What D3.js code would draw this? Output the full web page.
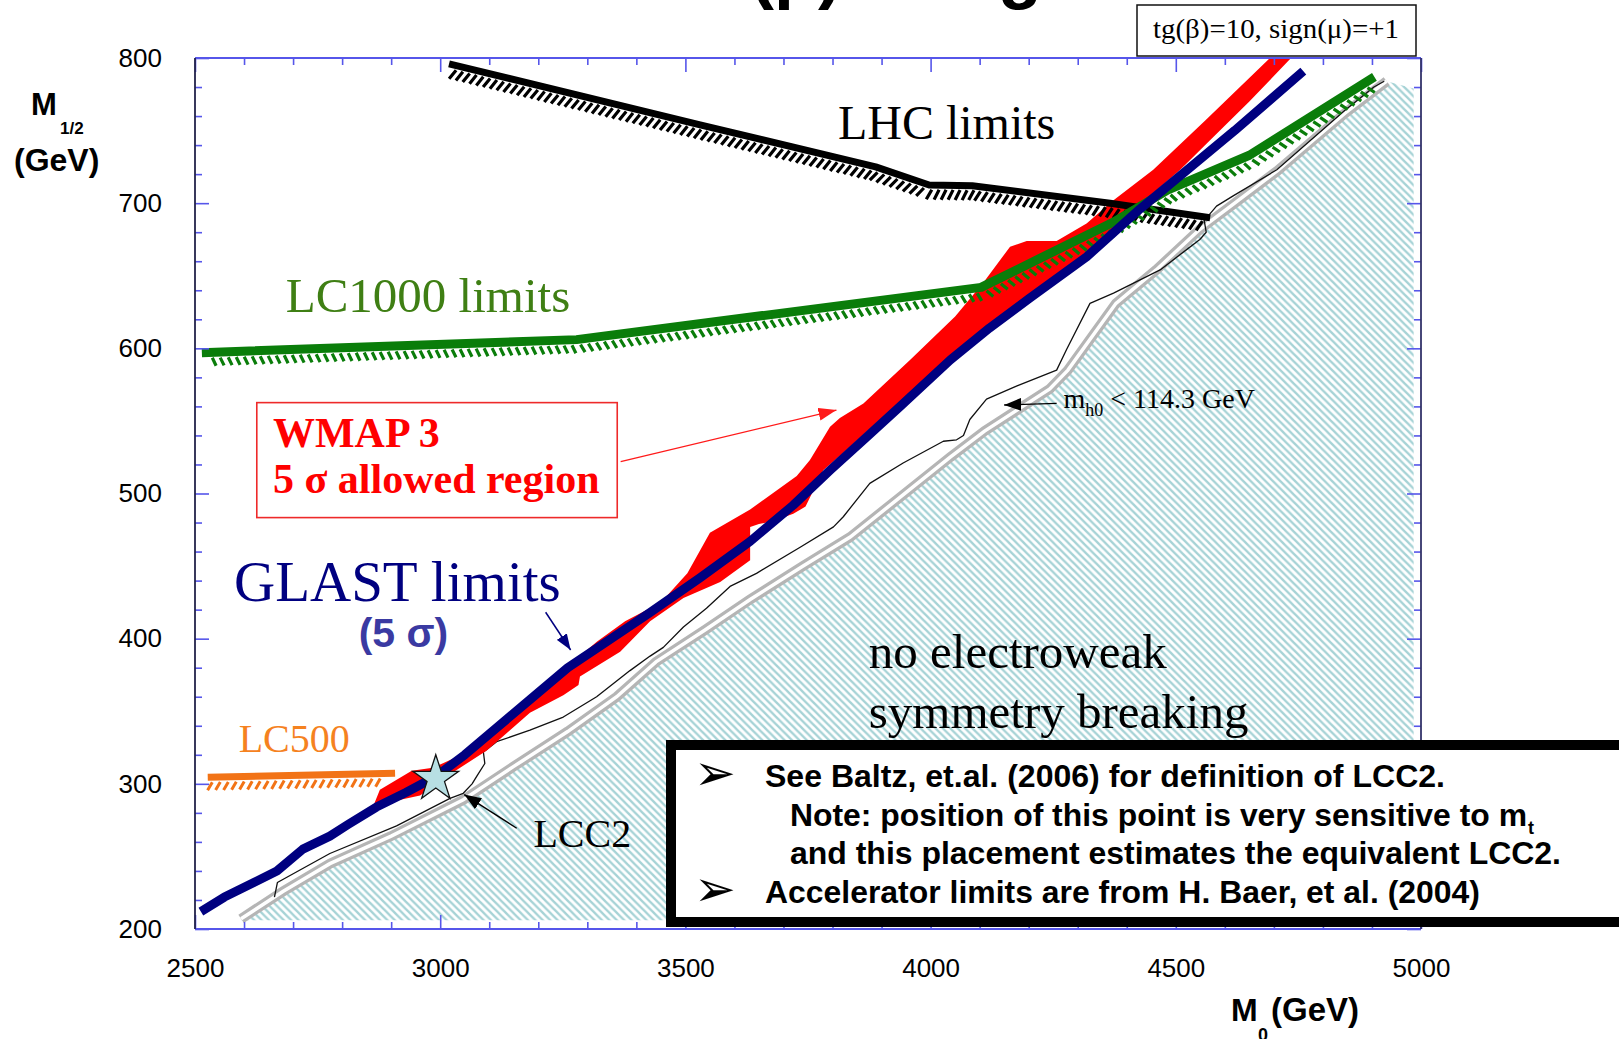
<!DOCTYPE html>
<html>
<head>
<meta charset="utf-8">
<script src="https://cdn.jsdelivr.net/npm/d3@7"></script>
<style>
  body { margin: 0; background: #fff; }
  svg { display: block; }
  .serif { font-family: "Liberation Serif", "Times New Roman", serif; }
  .sans { font-family: "Liberation Sans", Arial, Helvetica, sans-serif; }
</style>
</head>
<body>
<div id="chart"></div>
<script>
// ---- data (M0, M1/2) in GeV ----
const xTicks = [2500, 3000, 3500, 4000, 4500, 5000];
const yTicks = [200, 300, 400, 500, 600, 700, 800];

const glastLimit = [[2512,212],[2560,222],[2620,232],[2667,240],[2720,255],[2775,264],[2812,272],[2870,284],
  [2930,294],[2991,305],[3050,320],[3120,340],[3190,360],[3260,380],[3340,398],[3428,418],[3530,442],
  [3632,467],[3720,492],[3795,516],[3870,539],[3938,560],[4040,592],[4120,614],[4200,634],[4318,663],
  [4427,696],[4520,722],[4620,750],[4760,791]];

const wmapUpper = [[2864,285],[2877,296],[2942,309],[2985,311],[3050,321],[3120,341],[3190,361],[3260,381],
  [3320,398],[3377,412],[3450,425],[3504,445],[3550,473],[3632,489],[3727,512],[3754,523],[3795,546],
  [3815,552],[3863,562],[3958,592],[4050,622],[4107,645],[4162,670],[4196,674],[4257,674],[4318,686],
  [4373,702],[4454,723],[4560,757],[4692,800]];
const wmapLower = [[4735,800],[4650,770],[4560,740],[4509,723],[4420,697],[4318,666],[4200,636],[4100,610],
  [4006,582],[3938,563],[3904,553],[3822,528],[3781,516],[3745,491],[3720,486],[3680,481],[3650,479],
  [3632,477],[3632,454],[3571,439],[3496,428],[3428,412],[3367,391],[3285,374],[3282,368],[3251,361],
  [3183,349],[3095,323],[3013,305],[2959,292],[2864,285]];

const lc1000Limit = [[2514,597],[3278,606],[4103,642],[4373,687],[4483,709],[4650,733],[4905,787]];
const lhcLimit = [[3018,796],[3530,754],[3888,725],[3997,712.5],[4085,712],[4366,700],[4570,690]];
const lc500Limit = [[2526,304.5],[2908,307.3]];

const higgsBoundary = [[2662,222],[2668,232],[2775,252],[2911,271],[3020,290],[3047,293.5],[3065,300],
  [3076,306],[3091,314],[3088,322],[3100,325],[3115,329],[3183,337],[3251,346],[3319,360],[3387,378],
  [3428,388],[3455,394],[3496,408],[3543,421],[3591,436],[3645,445],[3734,463],[3802,477],[3822,484],
  [3876,507],[3944,521],[4026,536],[4053,537],[4067,540],[4080,551],[4114,565],[4175,574],[4257,585],
  [4277,599],[4325,631],[4373,638],[4468,654],[4522,668],[4549,675],[4562,680],[4558,688],[4583,698],
  [4617,705],[4706,723],[4845,764],[4904,780],[4925,784]];

const ewsbEdge = [[2594,207],[2680,226],[2775,245],[2900,264],[3047,289],[3150,312],[3260,336],[3360,360],
  [3440,384],[3540,406],[3632,427],[3740,450],[3836,470],[3940,498],[4040,525],[4110,543],[4243,572],
  [4280,585],[4378,631],[4460,654],[4549,682],[4620,700],[4706,722],[4845,762],[4930,784]];
const ewsbCorners = [[4985,779],[4985,206],[2594,206]];

const lcc2Point = [2991, 303.5];

// ---- layout ----
const width = 1619, height = 1039;
const plot = {left: 195, right: 1421, top: 58, bottom: 929};
const blueAxis = "#5656ea";

const svg = d3.select("#chart").append("svg")
  .attr("width", width)
  .attr("height", height);

const x = d3.scaleLinear().domain([2500, 5000]).range([plot.left, plot.right]);
const y = d3.scaleLinear().domain([200, 800]).range([plot.bottom, plot.top]);

const line = d3.line().x(d => x(d[0])).y(d => y(d[1]));

/* patterns, markers, clip */
const defs = svg.append("defs");
defs.append("clipPath").attr("id", "plotClip").append("rect")
  .attr("x", plot.left).attr("y", plot.top)
  .attr("width", plot.right - plot.left).attr("height", plot.bottom - plot.top);

const hp = defs.append("pattern").attr("id", "cyanHatch")
  .attr("patternUnits", "userSpaceOnUse").attr("width", 7.4).attr("height", 7.4);
hp.append("path")
  .attr("d", "M0,0 L7.4,7.4 M-3.7,3.7 L3.7,11.1 M3.7,-3.7 L11.1,3.7")
  .attr("stroke", "#a6d3d6").attr("stroke-width", 2.4);

function marker(id, color, len, wid) {
  defs.append("marker").attr("id", id)
    .attr("markerUnits", "userSpaceOnUse")
    .attr("markerWidth", len).attr("markerHeight", wid)
    .attr("refX", len).attr("refY", wid / 2)
    .attr("orient", "auto")
    .append("path")
      .attr("d", `M0,0 L${len},${wid / 2} L0,${wid} Z`)
      .attr("fill", color);
}
marker("arrRed", "#ff1a1a", 18, 13);
marker("arrNavy", "#000080", 16, 12);
marker("arrBlack", "#000", 17, 13);

/* short slanted hatch strokes under a limit line */
function hatch(g, pathSel, o) {
  const node = pathSel.node();
  const L = node.getTotalLength();
  let d = "";
  for (let s = o.start; s < L - o.end; s += o.step) {
    const p = node.getPointAtLength(s);
    const q = node.getPointAtLength(Math.min(L, s + 1));
    const r = node.getPointAtLength(Math.max(0, s - 1));
    let tx = q.x - r.x, ty = q.y - r.y;
    const n = Math.hypot(tx, ty) || 1;
    tx /= n; ty /= n;
    const nx = -ty, ny = tx;
    const a = [p.x + nx * o.off + tx * o.slant, p.y + ny * o.off + ty * o.slant];
    const b = [p.x + nx * (o.off + o.len) - tx * o.slant, p.y + ny * (o.off + o.len) - ty * o.slant];
    d += `M${a[0].toFixed(1)},${a[1].toFixed(1)}L${b[0].toFixed(1)},${b[1].toFixed(1)}`;
  }
  g.append("path").attr("d", d)
    .attr("stroke", o.color).attr("stroke-width", o.width).attr("fill", "none");
}

const marks = svg.append("g").attr("clip-path", "url(#plotClip)");

/* no EWSB region */
marks.append("path")
  .attr("d", line(ewsbEdge.concat(ewsbCorners)) + "Z")
  .attr("fill", "url(#cyanHatch)");

/* Higgs mass band */
marks.append("path").attr("d", line(ewsbEdge))
  .attr("fill", "none").attr("stroke", "#b5b5b5").attr("stroke-width", 10);
marks.append("path").attr("d", line(ewsbEdge))
  .attr("fill", "none").attr("stroke", "#fff").attr("stroke-width", 3.5);
marks.append("path").attr("d", line(higgsBoundary))
  .attr("fill", "none").attr("stroke", "#111").attr("stroke-width", 1.3)
  .attr("stroke-linejoin", "round");

/* WMAP band */
marks.append("path")
  .attr("d", line(wmapUpper.concat(wmapLower)) + "Z")
  .attr("fill", "#ff0000");

/* LHC limit */
const lhcPath = marks.append("path").attr("d", line(lhcLimit))
  .attr("fill", "none").attr("stroke", "#000").attr("stroke-width", 7)
  .attr("stroke-linejoin", "round");
hatch(marks, lhcPath, {off: 4.5, len: 10, step: 7, slant: 2.4, start: 6, end: 3, color: "#000", width: 3.2});

/* LC1000 limit */
const lc1000Path = marks.append("path").attr("d", line(lc1000Limit))
  .attr("fill", "none").attr("stroke", "#0a7d0a").attr("stroke-width", 9)
  .attr("stroke-linejoin", "round");
hatch(marks, lc1000Path, {off: 5.5, len: 8, step: 8, slant: -1.8, start: 12, end: 4, color: "#0a7d0a", width: 3.2});

/* GLAST limit */
marks.append("path").attr("d", line(glastLimit))
  .attr("fill", "none").attr("stroke", "#000080").attr("stroke-width", 9)
  .attr("stroke-linejoin", "round").attr("stroke-linecap", "butt");

/* LC500 limit */
const lc500Path = marks.append("path").attr("d", line(lc500Limit))
  .attr("fill", "none").attr("stroke", "#f27316").attr("stroke-width", 7);
hatch(marks, lc500Path, {off: 5, len: 8, step: 8, slant: 2.4, start: 2, end: 16, color: "#f27316", width: 3});

/* LCC2 star */
marks.append("path")
  .attr("d", d3.symbol(d3.symbolStar, 650)())
  .attr("transform", `translate(${x(lcc2Point[0])},${y(lcc2Point[1])})`)
  .attr("fill", "#b7dfe3").attr("stroke", "#111").attr("stroke-width", 1.3);

/* ---- axes ---- */
function styleAxis(g) {
  g.select(".domain").remove();
  g.selectAll(".tick line").attr("stroke", blueAxis).attr("stroke-width", 1.6);
  g.selectAll(".tick text").attr("class", "sans").attr("font-size", 26).attr("fill", "#000");
}
const xMinor = d3.range(2500, 5001, 100).filter(v => v % 500);
const yMinor = d3.range(200, 801, 20).filter(v => v % 100);

svg.append("g").attr("transform", `translate(0,${plot.bottom})`)
  .call(d3.axisBottom(x).tickValues(xMinor).tickSize(-7).tickFormat("")).call(styleAxis);
svg.append("g").attr("transform", `translate(0,${plot.bottom})`)
  .call(d3.axisBottom(x).tickValues(xTicks).tickSizeInner(-14).tickSizeOuter(0).tickPadding(30)
    .tickFormat(d3.format("d"))).call(styleAxis);
svg.append("g").attr("transform", `translate(0,${plot.top})`)
  .call(d3.axisTop(x).tickValues(xMinor).tickSize(-7).tickFormat("")).call(styleAxis);
svg.append("g").attr("transform", `translate(0,${plot.top})`)
  .call(d3.axisTop(x).tickValues(xTicks).tickSize(-14).tickFormat("")).call(styleAxis);

svg.append("g").attr("transform", `translate(${plot.left},0)`)
  .call(d3.axisLeft(y).tickValues(yMinor).tickSize(-7).tickFormat("")).call(styleAxis);
svg.append("g").attr("transform", `translate(${plot.left},0)`)
  .call(d3.axisLeft(y).tickValues(yTicks).tickSizeInner(-14).tickSizeOuter(0).tickPadding(33)
    .tickFormat(d3.format("d"))).call(styleAxis);
svg.append("g").attr("transform", `translate(${plot.right},0)`)
  .call(d3.axisRight(y).tickValues(yMinor).tickSize(-7).tickFormat("")).call(styleAxis);
svg.append("g").attr("transform", `translate(${plot.right},0)`)
  .call(d3.axisRight(y).tickValues(yTicks).tickSize(-14).tickFormat("")).call(styleAxis);

/* frame */
const frame = svg.append("g").attr("stroke-width", 1.8);
frame.append("line").attr("x1", plot.left).attr("x2", plot.right).attr("y1", plot.top).attr("y2", plot.top).attr("stroke", blueAxis);
frame.append("line").attr("x1", plot.left).attr("x2", plot.right).attr("y1", plot.bottom).attr("y2", plot.bottom).attr("stroke", blueAxis);
frame.append("line").attr("x1", plot.left).attr("x2", plot.left).attr("y1", plot.top).attr("y2", plot.bottom).attr("stroke", "#22224a");
frame.append("line").attr("x1", plot.right).attr("x2", plot.right).attr("y1", plot.top).attr("y2", plot.bottom).attr("stroke", "#33336a");

/* axis titles */
const yt = svg.append("g").attr("class", "sans").attr("font-weight", "bold").attr("fill", "#000");
yt.append("text").attr("x", 31).attr("y", 115).attr("font-size", 31).text("M");
yt.append("text").attr("x", 60).attr("y", 134).attr("font-size", 17).text("1/2");
yt.append("text").attr("x", 14).attr("y", 171).attr("font-size", 32).text("(GeV)");
const xt = svg.append("g").attr("class", "sans").attr("font-weight", "bold").attr("fill", "#000");
xt.append("text").attr("x", 1231).attr("y", 1021).attr("font-size", 32).text("M");
xt.append("text").attr("x", 1258).attr("y", 1041).attr("font-size", 18).text("0");
xt.append("text").attr("x", 1271).attr("y", 1021).attr("font-size", 33).text("(GeV)");

/* title, cut off by the top of the slide */
svg.append("text").attr("class", "sans").attr("font-weight", "bold")
  .attr("x", 642).attr("y", -5).attr("font-size", 72).attr("fill", "#000")
  .text("tan(β) Range");

/* ---- annotations ---- */
const ann = svg.append("g");
function label(g, m0, m12, txt, size, color, cls, weight) {
  return g.append("text").attr("class", cls)
    .attr("x", x(m0)).attr("y", y(m12))
    .attr("font-size", size).attr("fill", color)
    .attr("font-weight", weight || "normal").text(txt);
}
function arrow(g, from, to, color, w, mk) {
  g.append("line")
    .attr("x1", x(from[0])).attr("y1", y(from[1]))
    .attr("x2", x(to[0])).attr("y2", y(to[1]))
    .attr("stroke", color).attr("stroke-width", w)
    .attr("marker-end", `url(#${mk})`);
}

label(ann, 3811, 744, "LHC limits", 48, "#000", "serif");
label(ann, 2685, 625.2, "LC1000 limits", 49, "#3f7f14", "serif");

ann.append("rect")
  .attr("x", x(2626)).attr("y", y(562.6))
  .attr("width", x(3361) - x(2626)).attr("height", y(483.4) - y(562.6))
  .attr("fill", "#fff").attr("stroke", "#ee2a2a").attr("stroke-width", 1.6);
label(ann, 2659, 531.8, "WMAP 3", 42, "#ff0000", "serif", "bold");
label(ann, 2659, 500.1, "5 σ allowed region", 42, "#ff0000", "serif", "bold");
arrow(ann, [3368, 521.9], [3808, 557.5], "#ff1a1a", 1.3, "arrRed");

label(ann, 2579.5, 426.2, "GLAST limits", 57, "#000080", "serif");
label(ann, 2925, 394.5, "(5 σ)", 41, "#3a3aa2", "sans", "bold").attr("text-anchor", "middle");
arrow(ann, [3215, 418.2], [3266, 392.2], "#000080", 1.5, "arrNavy");

label(ann, 2589, 322.2, "LC500", 40, "#f5821f", "serif");
label(ann, 3190, 256.7, "LCC2", 40, "#000", "serif");
arrow(ann, [3156, 269.4], [3049, 292.6], "#000", 1.4, "arrBlack");

const mh = label(ann, 4271, 558.7, "m", 28, "#000", "serif");
mh.append("tspan").attr("font-size", 18).attr("dy", 8).text("h0");
mh.append("tspan").attr("dy", -8).text(" < 114.3 GeV");
arrow(ann, [4257, 562.1], [4150, 561], "#000", 1.4, "arrBlack");

label(ann, 3874, 379.6, "no electroweak", 49, "#000", "serif");
label(ann, 3874, 338.5, "symmetry breaking", 49, "#000", "serif");

/* parameter box */
svg.append("rect").attr("x", 1137).attr("y", 5).attr("width", 279).attr("height", 51)
  .attr("fill", "#fff").attr("stroke", "#111").attr("stroke-width", 1.5);
svg.append("text").attr("class", "serif").attr("x", 1153).attr("y", 38)
  .attr("font-size", 28).attr("textLength", 246).attr("lengthAdjust", "spacingAndGlyphs")
  .text("tg(β)=10, sign(μ)=+1");

/* note box */
const note = svg.append("g");
note.append("rect").attr("x", 671).attr("y", 745).attr("width", 980).attr("height", 177)
  .attr("fill", "#fff").attr("stroke", "#000").attr("stroke-width", 10);
const noteLines = [
  {x: 765, y: 787, len: 680, t: "See Baltz, et.al. (2006) for definition of LCC2."},
  {x: 790, y: 826, len: 737, t: "Note: position of this point is very sensitive to m", sub: "t"},
  {x: 790, y: 864, len: 771, t: "and this placement estimates the equivalent LCC2."},
  {x: 765, y: 903, len: 715, t: "Accelerator limits are from H. Baer, et al. (2004)"}
];
noteLines.forEach(l => {
  note.append("text").attr("class", "sans").attr("font-weight", "bold")
    .attr("x", l.x).attr("y", l.y).attr("font-size", 32)
    .attr("textLength", l.len).attr("lengthAdjust", "spacingAndGlyphs").text(l.t);
  if (l.sub) {
    note.append("text").attr("class", "sans").attr("font-weight", "bold")
      .attr("x", l.x + l.len + 1).attr("y", l.y + 8).attr("font-size", 18).text(l.sub);
  }
});
[787, 903].forEach(by => {
  note.append("text").attr("x", 694).attr("y", by + 3).attr("font-size", 50)
    .attr("font-family", "DejaVu Sans").text("➢");
});
</script>
</body>
</html>
